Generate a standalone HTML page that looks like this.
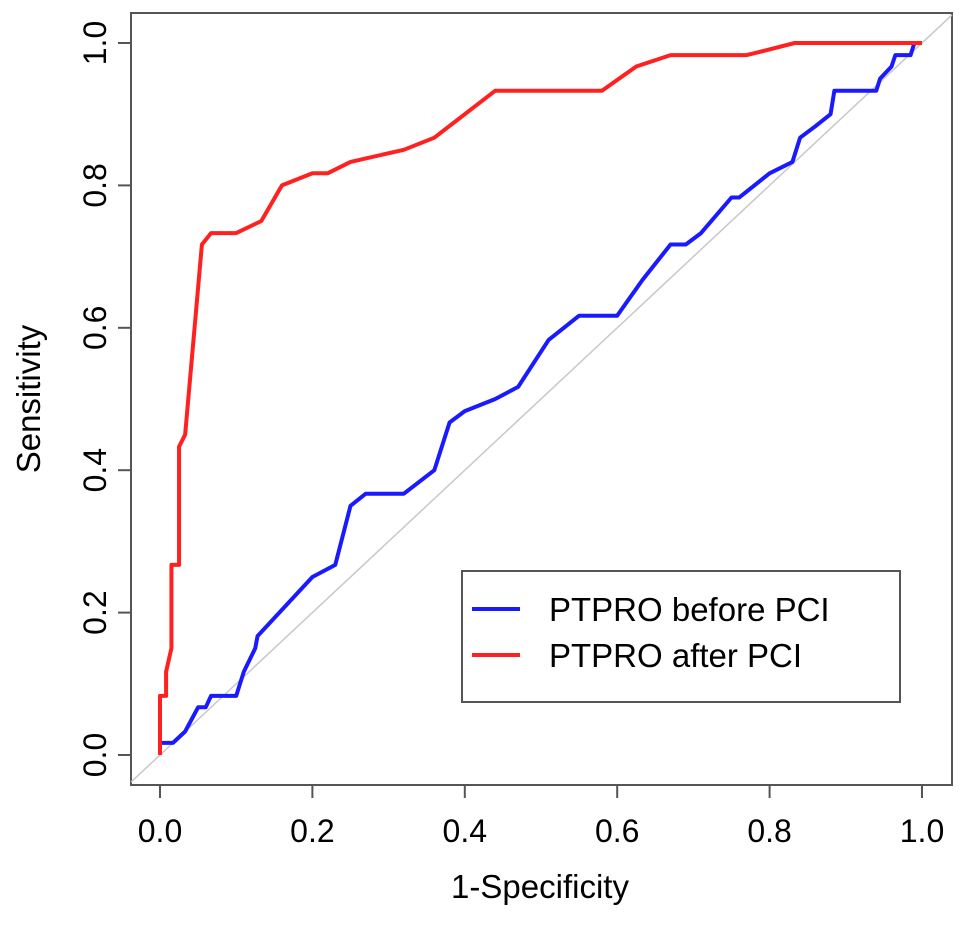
<!DOCTYPE html>
<html><head><meta charset="utf-8"><style>
body{margin:0;background:#fff}
svg text{font-family:"Liberation Sans",Arial,sans-serif;fill:#000}
</style></head><body>
<svg id="chart" width="969" height="922" viewBox="0 0 969 922" xmlns="http://www.w3.org/2000/svg">
<rect x="131" y="13" width="821" height="772" fill="none" stroke="#555" stroke-width="2"/>
<g id="axes"></g>
<g id="series"></g>
<g>
<rect x="462" y="571" width="438" height="131" fill="#fff" stroke="#555" stroke-width="2"/>
<line x1="472" y1="609" x2="520" y2="609" stroke="#1a1aff" stroke-width="4"/>
<text x="549" y="621" font-size="33">PTPRO before PCI</text>
<line x1="472" y1="655" x2="520" y2="655" stroke="#ff2020" stroke-width="4"/>
<text x="549" y="667" font-size="33">PTPRO after PCI</text>
</g>
<text x="540" y="898" font-size="33" text-anchor="middle">1-Specificity</text>
<text transform="translate(40,399) rotate(-90)" font-size="33" text-anchor="middle">Sensitivity</text>
</svg>
<script>
const xTicks=[0,0.2,0.4,0.6,0.8,1.0];
const yTicks=[0,0.2,0.4,0.6,0.8,1.0];
const tickLabels=["0.0","0.2","0.4","0.6","0.8","1.0"];
const afterX=[0,0,0.008,0.008,0.015,0.015,0.025,0.025,0.033,0.055,0.067,0.1,0.133,0.16,0.2,0.22,0.25,0.32,0.36,0.44,0.58,0.625,0.67,0.77,0.833,1];
const afterY=[0,0.083,0.083,0.117,0.15,0.267,0.267,0.433,0.45,0.717,0.733,0.733,0.75,0.8,0.817,0.817,0.833,0.85,0.867,0.933,0.933,0.967,0.983,0.983,1,1];
const beforeX=[0,0,0.017,0.033,0.05,0.06,0.067,0.1,0.11,0.125,0.128,0.2,0.23,0.25,0.27,0.32,0.36,0.38,0.4,0.44,0.47,0.51,0.55,0.6,0.633,0.67,0.69,0.71,0.75,0.76,0.8,0.83,0.84,0.86,0.88,0.885,0.94,0.945,0.96,0.965,0.985,0.99,1];
const beforeY=[0,0.017,0.017,0.033,0.067,0.067,0.083,0.083,0.117,0.15,0.167,0.25,0.267,0.35,0.367,0.367,0.4,0.467,0.483,0.5,0.517,0.583,0.617,0.617,0.667,0.717,0.717,0.733,0.783,0.783,0.817,0.833,0.867,0.883,0.9,0.933,0.933,0.95,0.967,0.983,0.983,1,1];
const NS="http://www.w3.org/2000/svg";
function sx(v){return 160+v*762;}
function sy(v){return 755-v*712;}
const axes=document.getElementById('axes');
const series=document.getElementById('series');
function mk(tag,attrs,parent){const e=document.createElementNS(NS,tag);for(const k in attrs)e.setAttribute(k,attrs[k]);parent.appendChild(e);return e;}
xTicks.forEach((t,i)=>{
  const l=mk('line',{x1:sx(t),x2:sx(t),y1:785,y2:798,stroke:'#555','stroke-width':2},axes);
  
  
  const tx=mk('text',{x:sx(t),y:842,'font-size':32,'text-anchor':'middle'},axes);
  tx.textContent=tickLabels[i];
  
  
});
yTicks.forEach((t,i)=>{
  const l=mk('line',{x1:118,x2:131,y1:sy(t),y2:sy(t),stroke:'#555','stroke-width':2},axes);
  
  
  const tx=mk('text',{transform:`translate(106,${sy(t)}) rotate(-90)`,'font-size':32,'text-anchor':'middle'},axes);
  tx.textContent=tickLabels[i];
  
  
});
const d0=(131-160)/762, d1=(952-160)/762;
const diag=mk('line',{x1:131,y1:sy(d0),x2:952,y2:sy(d1),stroke:'#c8c8c8','stroke-width':1.5},series);


function path(xs,ys,color,name){
  const p=mk('polyline',{points:xs.map((x,i)=>sx(x)+','+sy(ys[i])).join(' '),fill:'none',stroke:color,'stroke-width':4,'stroke-linejoin':'round'},series);
  
  
}
path(beforeX,beforeY,'#1a1aff','roc-before-pci');
path(afterX,afterY,'#ff2020','roc-after-pci');
</script>
</body></html>
